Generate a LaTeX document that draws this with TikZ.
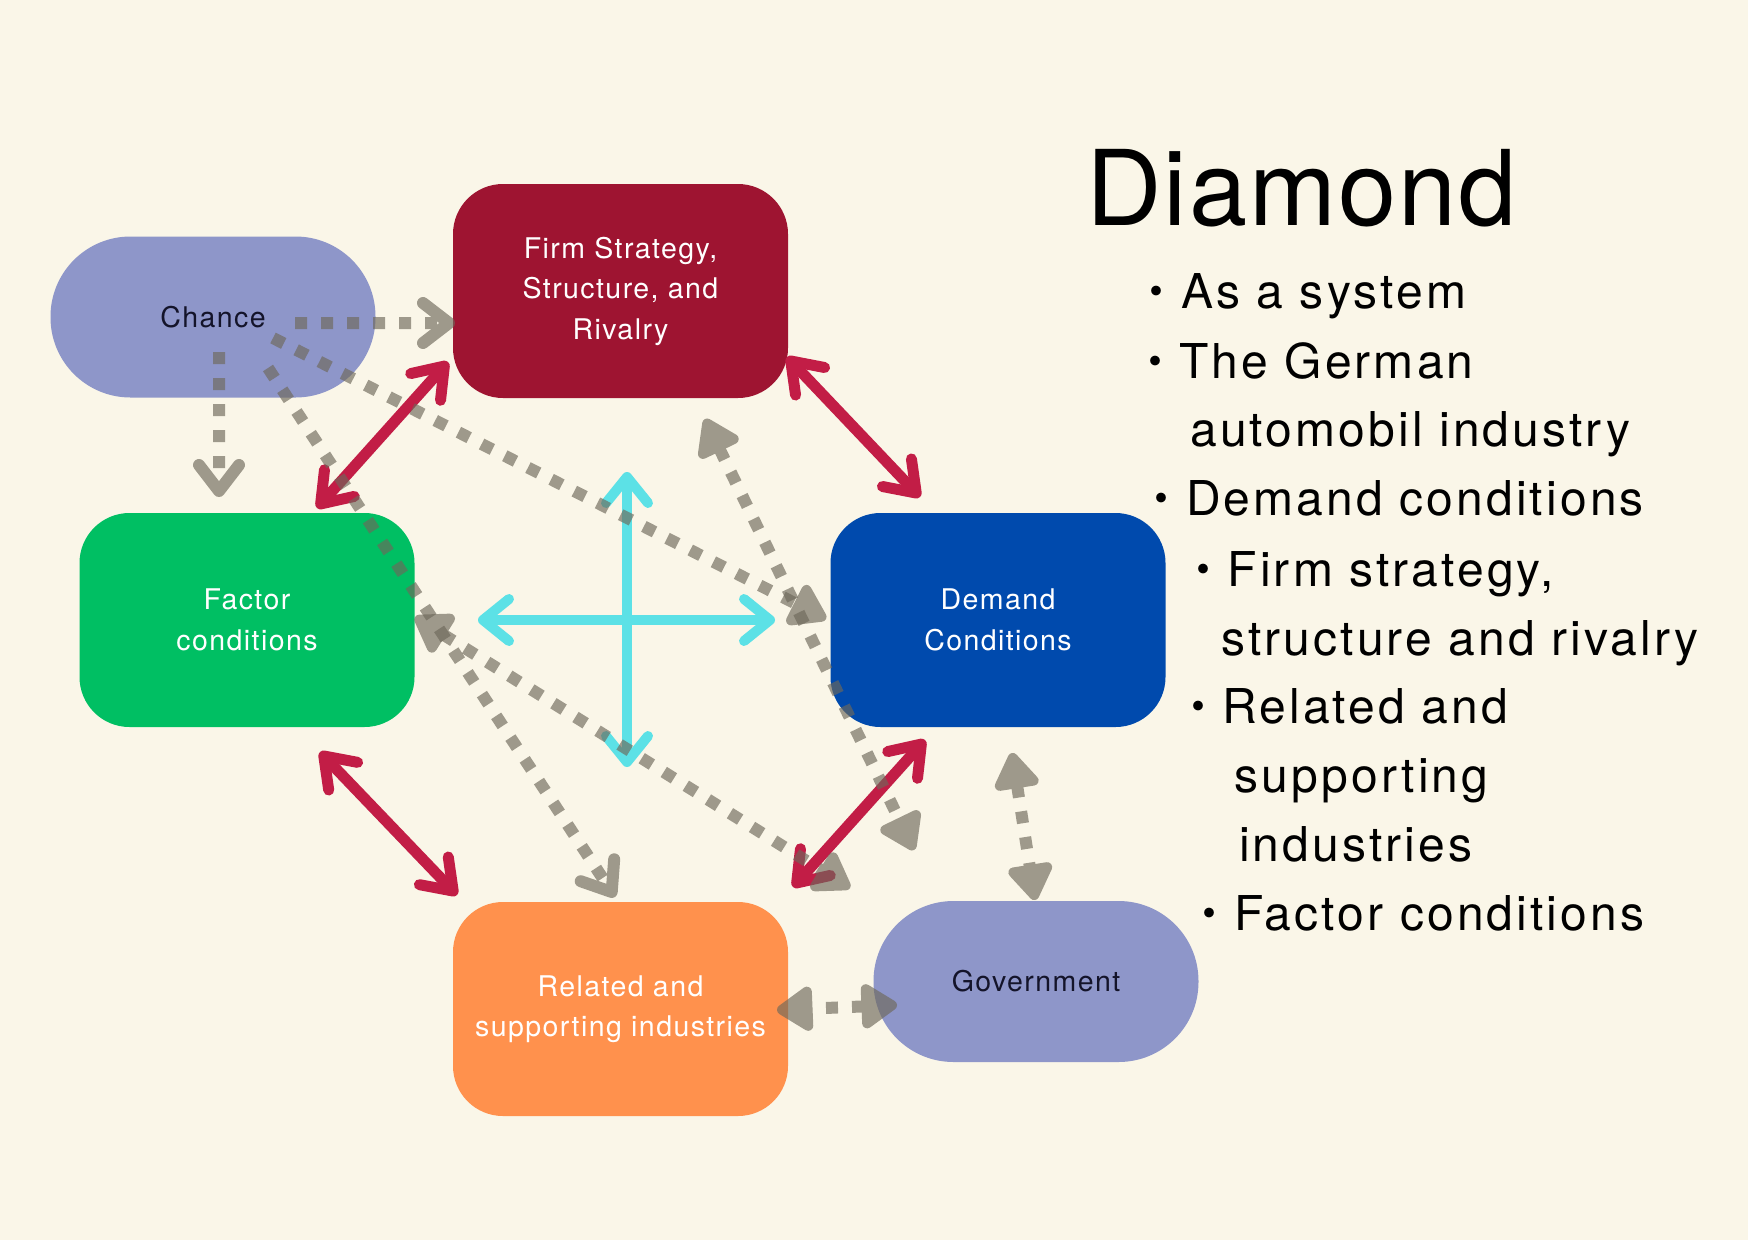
\documentclass[tikz,border=0pt]{standalone}
\usepackage{fontspec}
\usetikzlibrary{arrows.meta}
\newfontfamily\boxfont[LetterSpace=5]{TeX Gyre Heros}
\newfontfamily\rfont[LetterSpace=6.5]{TeX Gyre Heros}
\newfontfamily\tfont[LetterSpace=2]{TeX Gyre Heros}
\newfontfamily\jpfont{Noto Sans CJK JP}
\definecolor{bgc}{HTML}{FAF6E8}
\definecolor{pillc}{HTML}{8E96C9}
\definecolor{firmc}{HTML}{9E1431}
\definecolor{factorc}{HTML}{00BF63}
\definecolor{demandc}{HTML}{004AAD}
\definecolor{relatedc}{HTML}{FF914D}
\definecolor{redc}{HTML}{C21D46}
\definecolor{cyanc}{HTML}{5CE1E6}
\definecolor{grayc}{RGB}{110,104,90}
\definecolor{darktext}{HTML}{14142A}
\tikzset{
  boxst/.style={rectangle, rounded corners=50pt, minimum width=335pt, minimum height=214pt,
    inner sep=0pt, align=center, text=white, font=\boxfont\fontsize{28.5}{40.5}\selectfont},
  pill/.style={rectangle, rounded corners=80pt, minimum width=325pt, minimum height=161pt,
    inner sep=0pt, fill=pillc, text=darktext, font=\boxfont\fontsize{28.5}{40.5}\selectfont},
  redarr/.style={draw=redc, line width=11pt,
    {Straight Barb[length=28pt,width=40pt,round]}-{Straight Barb[length=28pt,width=40pt,round]}},
  cyanarr/.style={draw=cyanc, line width=10pt,
    {Straight Barb[length=26pt,width=42pt,round]}-{Straight Barb[length=26pt,width=42pt,round]}},
  grayln/.style={draw=grayc, line width=12pt, dash pattern=on 12pt off 14pt},
  chev/.style={grayln, -{Straight Barb[length=26pt,width=40pt,round]}},
  tri/.style={grayln, -{Triangle[length=40pt,width=50pt,round]}},
  tritwo/.style={grayln, {Triangle[length=40pt,width=50pt,round]}-{Triangle[length=40pt,width=50pt,round]}},
  grp/.style={transparency group, opacity=0.65},
  rtext/.style={anchor=base west, inner sep=0pt, text=black, font=\rfont\fontsize{48}{48}\selectfont},
  bul/.style={anchor=base, inner sep=0pt, text=black, font=\jpfont\fontsize{46}{46}\selectfont},
}
\begin{document}
\begin{tikzpicture}[x=1pt,y=-1pt]
\useasboundingbox (0,0) rectangle (1748,1240);
\fill[bgc] (0,0) rectangle (1748,1240);

% boxes
\node[pill] (chance) at (213,317) {Chance};
\node[boxst, fill=firmc] (firm) at (620.5,291) {\raisebox{-2pt}{\parbox{330pt}{\centering Firm Strategy,\\Structure, and\\Rivalry}}};
\node[boxst, fill=factorc] (factor) at (247,620) {Factor\\conditions};
\node[boxst, fill=demandc] (demand) at (998,620) {Demand\\Conditions};
\node[boxst, fill=relatedc] (related) at (620.5,1009) {Related and\\supporting industries};
\node[pill] (gov) at (1036,981.5) {Government};

% connector end points
\coordinate (r1a) at (448,362); \coordinate (r1b) at (317,508);
\coordinate (r2a) at (787,357); \coordinate (r2b) at (920,497);
\coordinate (r3a) at (320,752); \coordinate (r3b) at (457,895);
\coordinate (r4a) at (925,740); \coordinate (r4b) at (793,887);
\coordinate (chl) at (478,620); \coordinate (chr) at (775,620);
\coordinate (cvt) at (627,472); \coordinate (cvb) at (627,767);
\coordinate (ga1) at (295,323); \coordinate (ga2) at (455,323);
\coordinate (gb1) at (219,352); \coordinate (gb2) at (219,497);
\coordinate (gc1) at (273,338); \coordinate (gc2) at (826,619);
\coordinate (gd1) at (268,368); \coordinate (gd2) at (615,897);
\coordinate (ge1) at (415,617); \coordinate (ge2) at (850,888);
\coordinate (gf1) at (705,419); \coordinate (gf2) at (914,850);
\coordinate (gg1) at (1012,753); \coordinate (gg2) at (1035,900);
\coordinate (gh1) at (897,1005); \coordinate (gh2) at (777,1010);

% red arrows
\draw[redarr] (r1a) -- (r1b);
\draw[redarr] (r2a) -- (r2b);
\draw[redarr] (r3a) -- (r3b);
\draw[redarr] (r4a) -- (r4b);

% cyan cross
\draw[cyanarr] (chl) -- (chr);
\draw[cyanarr] (cvt) -- (cvb);

% gray dotted arrows
\begin{scope}[grp]\draw[chev] (ga1) -- (ga2);\end{scope}
\begin{scope}[grp]\draw[chev] (gb1) -- (gb2);\end{scope}
\begin{scope}[grp]\draw[tri] (gc1) -- (gc2);\end{scope}
\begin{scope}[grp]\draw[chev] (gd1) -- (gd2);\end{scope}
\begin{scope}[grp]\draw[tritwo] (ge1) -- (ge2);\end{scope}
\begin{scope}[grp]\draw[tritwo] (gf1) -- (gf2);\end{scope}
\begin{scope}[grp]\draw[tritwo] (gg1) -- (gg2);\end{scope}
\begin{scope}[grp]\draw[tritwo] (gh1) -- (gh2);\end{scope}

% right text
\node[anchor=base west, inner sep=0pt, font=\tfont\fontsize{104.5}{104.5}\selectfont] (title) at (1086,225) {Diamond};
\node[bul] (b1) at (1156,308) {・};
\node[rtext] (l1) at (1181,308) {As a system};
\node[bul] (b2) at (1155,378) {・};
\node[rtext] (l2) at (1179,378) {The German};
\node[rtext] (l3) at (1190,446) {automobil industry};
\node[bul] (b4) at (1161,515.5) {・};
\node[rtext] (l4) at (1186,515.5) {Demand conditions};
\node[bul] (b5) at (1203,586) {・};
\node[rtext] (l5) at (1227.5,586) {Firm strategy,};
\node[rtext] (l6) at (1221,655) {structure and rivalry};
\node[bul] (b7) at (1198,723.5) {・};
\node[rtext] (l7) at (1222,723.5) {Related and};
\node[rtext] (l8) at (1234.5,792) {supporting};
\node[rtext] (l9) at (1239,861.5) {industries};
\node[bul] (b10) at (1209,930) {・};
\node[rtext] (l10) at (1234,930) {Factor conditions};
\end{tikzpicture}
\end{document}
